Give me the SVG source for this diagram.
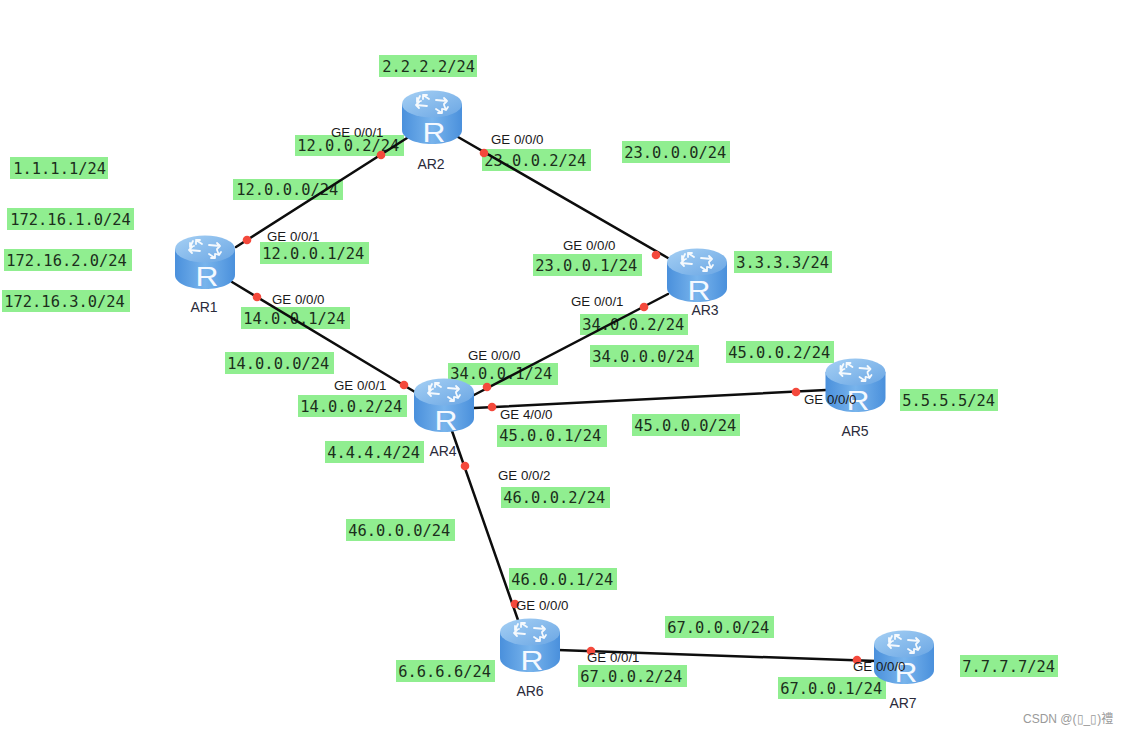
<svg xmlns="http://www.w3.org/2000/svg" width="1128" height="735" viewBox="0 0 1128 735">
<style>
.box{fill:#90ee90}
.ip{font-family:"DejaVu Sans Mono","Liberation Mono",monospace;font-size:15.4px;fill:#1c2e1c;transform:translate(0.3px,0.7px)}
.ge{font-family:"Liberation Sans",Arial,sans-serif;font-size:13.3px;fill:#1a1a1a}
.name{font-family:"Liberation Sans",Arial,sans-serif;font-size:14px;fill:#2a2a3a;text-anchor:middle}
.r{font-family:"Liberation Sans",Arial,sans-serif;font-size:27.5px;fill:#f4f9ff;text-anchor:middle}
.link{stroke:#0d0d0d;stroke-width:2.5;fill:none;stroke-linecap:round}
.dot{fill:#f4493c}
.mark{font-family:"Liberation Sans","Noto Sans CJK SC",sans-serif;font-size:12px;fill:#9a9a9a}
</style>
<defs>
<linearGradient id="side" x1="0" x2="1" y1="0" y2="0"><stop offset="0" stop-color="#4a90dc"/><stop offset=".5" stop-color="#78b4ec"/><stop offset="1" stop-color="#4a90dc"/></linearGradient>
<linearGradient id="top" x1="0" x2="1" y1="0" y2="1"><stop offset="0" stop-color="#a6d0f4"/><stop offset="1" stop-color="#6aa6e4"/></linearGradient>
<g id="router">
<path d="M-30 -13V13C-30 21 -17 27 0 27S30 21 30 13V-13Z" fill="url(#side)"/>
<ellipse cx="0" cy="-13" rx="30" ry="13.5" fill="url(#top)"/>
<g stroke="#fff" stroke-width="1.8" fill="none" stroke-linecap="round" opacity=".92">
<path d="M-3 -18L-9 -22M-9 -22h4M-9 -22v4"/>
<path d="M-12 -21L-15 -15M-15 -15l0 -4M-15 -15l4 -1"/>
<path d="M4 -17L15 -16M15 -16l-3 -3M15 -16l-3 3"/>
<path d="M-5 -11L-16 -12M-16 -12l3 -3M-16 -12l3 3"/>
<path d="M4 -8L10 -4M10 -4h-4M10 -4v-4"/>
<path d="M12 -12L14 -7M14 -7l-3 -1M14 -7l2 -3"/>
</g>
</g>
</defs>
<rect width="1128" height="735" fill="#fff"/>
<g id="ip-labels">
<rect class="box" x="379" y="55" width="98" height="22"/><text class="ip" x="382" y="71">2.2.2.2/24</text>
<rect class="box" x="10" y="157" width="98" height="22"/><text class="ip" x="13" y="173">1.1.1.1/24</text>
<rect class="box" x="7" y="208" width="127" height="22"/><text class="ip" x="10" y="224">172.16.1.0/24</text>
<rect class="box" x="4" y="249" width="128" height="22"/><text class="ip" x="6" y="265">172.16.2.0/24</text>
<rect class="box" x="2" y="290" width="128" height="22"/><text class="ip" x="4" y="306">172.16.3.0/24</text>
<rect class="box" x="295" y="135" width="109" height="21"/><text class="ip" x="297" y="150">12.0.0.2/24</text>
<rect class="box" x="482" y="149" width="109" height="22"/><text class="ip" x="484" y="165">23.0.0.2/24</text>
<rect class="box" x="622" y="141" width="108" height="22"/><text class="ip" x="624" y="157">23.0.0.0/24</text>
<rect class="box" x="233" y="179" width="110" height="21"/><text class="ip" x="236" y="194">12.0.0.0/24</text>
<rect class="box" x="260" y="242" width="109" height="22"/><text class="ip" x="262" y="258">12.0.0.1/24</text>
<rect class="box" x="533" y="254" width="109" height="22"/><text class="ip" x="535" y="270">23.0.0.1/24</text>
<rect class="box" x="734" y="251" width="98" height="22"/><text class="ip" x="736" y="267">3.3.3.3/24</text>
<rect class="box" x="580" y="314" width="108" height="21"/><text class="ip" x="582" y="329">34.0.0.2/24</text>
<rect class="box" x="241" y="307" width="109" height="22"/><text class="ip" x="243" y="323">14.0.0.1/24</text>
<rect class="box" x="225" y="352" width="109" height="22"/><text class="ip" x="227" y="368">14.0.0.0/24</text>
<rect class="box" x="590" y="345" width="109" height="22"/><text class="ip" x="592" y="361">34.0.0.0/24</text>
<rect class="box" x="726" y="341" width="108" height="22"/><text class="ip" x="728" y="357">45.0.0.2/24</text>
<rect class="box" x="448" y="363" width="110" height="22"/><text class="ip" x="450" y="378">34.0.0.1/24</text>
<rect class="box" x="298" y="395" width="109" height="22"/><text class="ip" x="300" y="411">14.0.0.2/24</text>
<rect class="box" x="900" y="389" width="98" height="22"/><text class="ip" x="902" y="405">5.5.5.5/24</text>
<rect class="box" x="497" y="425" width="110" height="22"/><text class="ip" x="499" y="440">45.0.0.1/24</text>
<rect class="box" x="632" y="414" width="108" height="22"/><text class="ip" x="634" y="430">45.0.0.0/24</text>
<rect class="box" x="325" y="441" width="99" height="22"/><text class="ip" x="327" y="457">4.4.4.4/24</text>
<rect class="box" x="501" y="487" width="109" height="21"/><text class="ip" x="503" y="502">46.0.0.2/24</text>
<rect class="box" x="346" y="519" width="109" height="22"/><text class="ip" x="348" y="535">46.0.0.0/24</text>
<rect class="box" x="509" y="568" width="108" height="22"/><text class="ip" x="511" y="584">46.0.0.1/24</text>
<rect class="box" x="665" y="616" width="109" height="22"/><text class="ip" x="667" y="632">67.0.0.0/24</text>
<rect class="box" x="396" y="660" width="99" height="22"/><text class="ip" x="398" y="676">6.6.6.6/24</text>
<rect class="box" x="578" y="665" width="109" height="22"/><text class="ip" x="580" y="681">67.0.0.2/24</text>
<rect class="box" x="778" y="677" width="108" height="22"/><text class="ip" x="780" y="693">67.0.0.1/24</text>
<rect class="box" x="960" y="655" width="98" height="22"/><text class="ip" x="962" y="671">7.7.7.7/24</text>
</g>
<g id="connectors">
<path class="link" d="M236 247L407 138"/>
<path class="link" d="M458 137L668 258"/>
<path class="link" d="M232 282L415 392"/>
<path class="link" d="M474 395L668 294"/>
<path class="link" d="M474 408L826 390"/>
<path class="link" d="M452 431L518 620"/>
<path class="link" d="M558 650L876 661"/>
</g>
<g id="AR1"><use href="#router" x="205" y="262"/><text class="r" x="207" y="286" textLength="23" lengthAdjust="spacingAndGlyphs">R</text><text class="name" x="204" y="312">AR1</text></g>
<g id="AR2"><use href="#router" x="432" y="117"/><text class="r" x="434" y="142" textLength="23" lengthAdjust="spacingAndGlyphs">R</text><text class="name" x="431" y="169">AR2</text></g>
<g id="AR3"><use href="#router" x="697" y="275"/><text class="r" x="699" y="300" textLength="23" lengthAdjust="spacingAndGlyphs">R</text><text class="name" x="705" y="315">AR3</text></g>
<g id="AR4"><use href="#router" x="444" y="405"/><text class="r" x="446" y="430" textLength="23" lengthAdjust="spacingAndGlyphs">R</text><text class="name" x="443" y="456">AR4</text></g>
<g id="AR5"><use href="#router" x="855.5" y="385"/><text class="r" x="858" y="410" textLength="23" lengthAdjust="spacingAndGlyphs">R</text><text class="name" x="855" y="436">AR5</text></g>
<g id="AR6"><use href="#router" x="530" y="645"/><text class="r" x="532" y="670" textLength="23" lengthAdjust="spacingAndGlyphs">R</text><text class="name" x="530" y="696">AR6</text></g>
<g id="AR7"><use href="#router" x="904" y="657"/><text class="r" x="906" y="682" textLength="23" lengthAdjust="spacingAndGlyphs">R</text><text class="name" x="903" y="708">AR7</text></g>
<g id="ports">
<circle class="dot" cx="381" cy="155" r="4.3"/><circle class="dot" cx="247" cy="240" r="4.3"/><circle class="dot" cx="257" cy="297" r="4.3"/><circle class="dot" cx="404" cy="385" r="4.3"/><circle class="dot" cx="484" cy="153" r="4.3"/><circle class="dot" cx="656" cy="255" r="4.3"/><circle class="dot" cx="644" cy="307" r="4.3"/><circle class="dot" cx="487" cy="387" r="4.3"/><circle class="dot" cx="492" cy="407" r="4.3"/><circle class="dot" cx="796" cy="392" r="4.3"/><circle class="dot" cx="465" cy="466" r="4.3"/><circle class="dot" cx="515" cy="604" r="4.3"/><circle class="dot" cx="591" cy="651" r="4.3"/><circle class="dot" cx="857" cy="660" r="4.3"/>
<text class="ge" x="331" y="137">GE 0/0/1</text>
<text class="ge" x="267" y="241">GE 0/0/1</text>
<text class="ge" x="272" y="304">GE 0/0/0</text>
<text class="ge" x="491" y="144">GE 0/0/0</text>
<text class="ge" x="563" y="250">GE 0/0/0</text>
<text class="ge" x="571" y="306">GE 0/0/1</text>
<text class="ge" x="468" y="360">GE 0/0/0</text>
<text class="ge" x="334" y="390">GE 0/0/1</text>
<text class="ge" x="500" y="419">GE 4/0/0</text>
<text class="ge" x="804" y="404">GE 0/0/0</text>
<text class="ge" x="498" y="480">GE 0/0/2</text>
<text class="ge" x="516" y="610">GE 0/0/0</text>
<text class="ge" x="587" y="662">GE 0/0/1</text>
<text class="ge" x="853" y="671">GE 0/0/0</text>
</g>
<text class="mark" x="1023" y="723">CSDN @(▯_▯)禮</text>
</svg>
